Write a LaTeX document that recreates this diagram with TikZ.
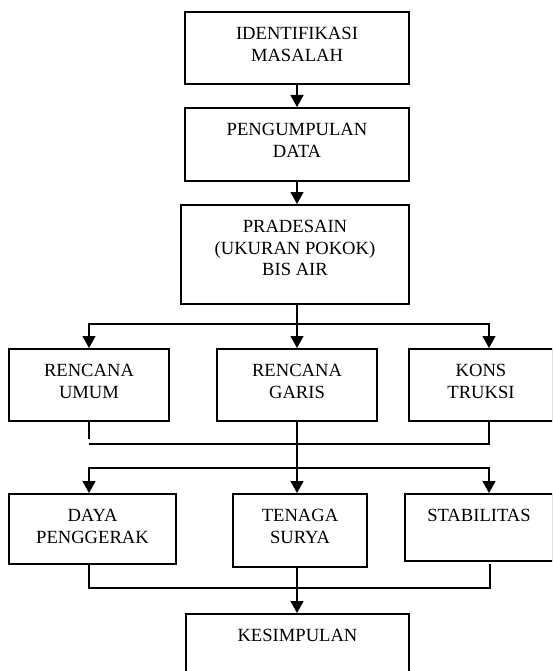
\documentclass[tikz,border=0pt]{standalone}
\usepackage{fontspec}
\setmainfont{Liberation Serif}
\usetikzlibrary{arrows.meta}
\newcommand{\bxtext}[3]{\parbox[c][#2][t]{#1}{\centering\rule{0pt}{28pt}#3}}
\begin{document}
\begin{tikzpicture}[x=1pt,y=-1pt,
  boxnode/.style={draw,line width=1.6pt,inner sep=0pt,anchor=north,
    font=\fontsize{18.6pt}{21.5pt}\selectfont},
  conn/.style={line width=1.5pt},
  arr/.style={conn,-{Triangle[length=12pt,width=13pt]}},
  arrboth/.style={conn,{Triangle[length=12pt,width=13pt]}-{Triangle[length=12pt,width=13pt]}}]
\useasboundingbox (0,0) rectangle (552,671);
\clip (0,0) rectangle (552,671);
% boxes
\node[boxnode] (b1) at (297,11)  {\bxtext{224pt}{72pt}{IDENTIFIKASI\\MASALAH}};
\node[boxnode] (b2) at (297,107) {\bxtext{224pt}{73pt}{PENGUMPULAN\\DATA}};
\node[boxnode] (b3) at (295,204) {\bxtext{228pt}{99pt}{PRADESAIN\\(UKURAN POKOK)\\BIS AIR}};
\node[boxnode] (r1) at (89,348)  {\bxtext{160pt}{72pt}{RENCANA\\UMUM}};
\node[boxnode] (r2) at (297,348) {\bxtext{160pt}{72pt}{RENCANA\\GARIS}};
\node[boxnode] (r3) at (481,348) {\bxtext{144pt}{72pt}{KONS\\TRUKSI}};
\node[boxnode] (d1) at (92.5,493) {\bxtext{167pt}{70pt}{DAYA\\PENGGERAK}};
\node[boxnode] (d2) at (300,493) {\bxtext{134pt}{73pt}{TENAGA\\SURYA}};
\node[boxnode] (d3) at (479,493) {\bxtext{148pt}{67pt}{STABILITAS}};
\node[boxnode] (k)  at (297.5,613) {\bxtext{223pt}{77pt}{KESIMPULAN}};
% junction coordinates
\coordinate (s1) at (89,324);
\coordinate (s3) at (489,324);
\coordinate (g1) at (89,439);
\coordinate (t1) at (89,444);
\coordinate (t3) at (489,444);
\coordinate (u1) at (89,468);
\coordinate (u3) at (489,468);
\coordinate (v1) at (89,588);
\coordinate (v3) at (490,588);
\coordinate (w3) at (490,564);
% connectors
\draw[arr] (b1.south -| b2.north) -- (b2.north);
\draw[arr] (b2.south) -- (b2.south |- b3.north);
\draw[arr] (b3.south -| r2.north) -- (r2.north);
\draw[arrboth] (s1 |- r1.north) -- (s1) -- (s3) -- (s3 |- r3.north);
\draw[conn] (r1.south -| g1) -- (g1);
\draw[conn] (t1) -- (t3) -- (t3 |- r3.south);
\draw[arr] (r2.south) -- (r2.south |- d2.north);
\draw[arrboth] (u1 |- d1.north) -- (u1) -- (u3) -- (u3 |- d3.north);
\draw[conn] (v1 |- d1.south) -- (v1) -- (v3) -- (w3);
\draw[arr] (r2.south |- d2.south) -- (r2.south |- k.north);
\end{tikzpicture}
\end{document}
